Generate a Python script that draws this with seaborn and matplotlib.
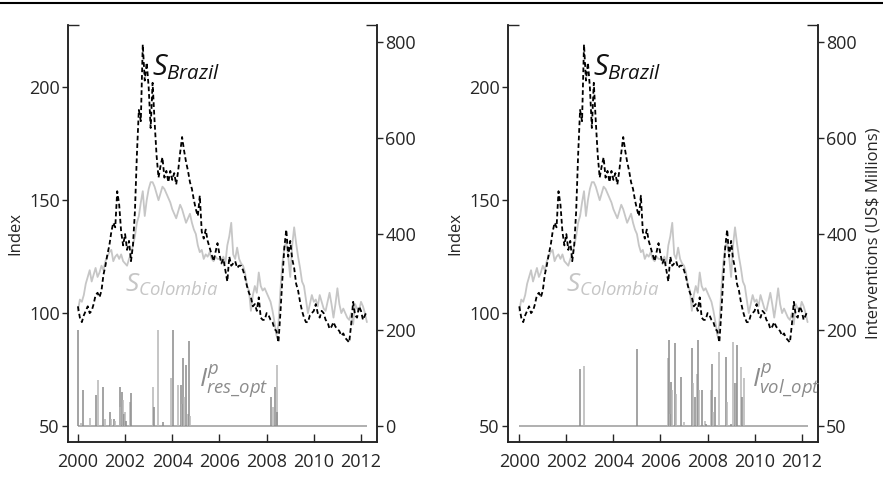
import numpy as np
import matplotlib
matplotlib.use('Agg')
import matplotlib.pyplot as plt
import seaborn as sns
from matplotlib.lines import Line2D

# monthly exchange-rate indices, Jan 2000 .. Apr 2012
brazil = [103, 98, 96, 99, 101, 103, 100, 101, 104, 108, 109, 107,
          110, 117, 121, 126, 130, 136, 140, 138, 154, 148, 136, 130,
          135, 128, 132, 123, 130, 145, 170, 190, 185, 219, 203, 211,
          200, 182, 202, 185, 170, 160, 165, 169, 160, 163, 158, 163,
          159, 162, 157, 163, 171, 178, 172, 167, 163, 158, 155, 150,
          146, 143, 152, 136, 133, 137, 132, 129, 126, 123, 127, 131,
          126, 122, 124, 119, 114, 125, 121, 122, 123, 120, 121, 121,
          119, 116, 112, 109, 107, 103, 104, 101, 107, 98, 97, 97,
          100, 99, 97, 96, 93, 92, 87, 100, 115, 129, 137, 125,
          132, 124, 120, 113, 110, 105, 101, 98, 96, 96, 99, 100,
          101, 104, 100, 98, 101, 100, 97, 96, 93, 94, 96, 94,
          93, 92, 90, 91, 89, 88, 87, 95, 105, 99, 98, 103,
          101, 97, 99, 101]
colombia = [101, 106, 105, 108, 113, 116, 119, 114, 117, 120, 116, 118,
            121, 119, 123, 125, 127, 128, 123, 125, 126, 124, 126, 123,
            122, 121, 124, 126, 130, 134, 140, 143, 149, 154, 143, 150,
            155, 158, 158, 156, 153, 150, 153, 156, 155, 153, 151, 149,
            146, 144, 142, 145, 148, 146, 143, 140, 142, 144, 140, 137,
            135, 130, 127, 128, 124, 126, 125, 127, 124, 123, 125, 124,
            124, 123, 125, 122, 130, 134, 140, 126, 124, 129, 124, 122,
            121, 118, 112, 110, 101, 108, 112, 109, 118, 112, 110, 111,
            109, 107, 105, 101, 96, 90, 95, 110, 122, 129, 132, 125,
            116, 130, 138, 131, 125, 120, 114, 112, 106, 100, 104, 108,
            105, 106, 103, 108, 105, 102, 101, 105, 109, 104, 98, 104,
            111, 104, 100, 102, 100, 98, 97, 100, 95, 104, 102, 101,
            105, 103, 100, 96]

# interventions (US$ millions)
res_dates = [2000.01, 2000.15, 2000.2, 2000.5, 2000.76, 2000.86, 2001.07, 2001.14,
             2001.36, 2001.4, 2001.55, 2001.58, 2001.78, 2001.8, 2001.85, 2001.9,
             2001.95, 2002.0, 2002.05, 2002.2, 2002.23, 2003.19, 2003.21, 2003.38,
             2003.6, 2003.94, 2004.04, 2004.25, 2004.39, 2004.42, 2004.46, 2004.5,
             2004.6, 2004.65, 2004.72, 2004.75, 2008.2, 2008.25, 2008.35, 2008.42,
             2008.45]
res_vals = [200, 6, 75, 16, 65, 96, 82, 15, 30, 15, 15, 10, 82, 40, 71, 55,
            25, 30, 10, 50, 68, 82, 40, 200, 8, 100, 200, 85, 85, 45, 141, 60,
            127, 25, 178, 20, 61, 40, 82, 127, 30]
vol_dates = [2002.59, 2002.76, 2004.99, 2006.3, 2006.36, 2006.4, 2006.45, 2006.5,
             2006.6, 2006.65, 2006.86, 2007.0, 2007.33, 2007.4, 2007.45, 2007.54,
             2007.6, 2007.65, 2007.75, 2007.9, 2007.95, 2008.13, 2008.17, 2008.24,
             2008.32, 2008.47, 2008.78, 2008.82, 2009.0, 2009.09, 2009.15, 2009.2,
             2009.26, 2009.42, 2009.46, 2009.56]
vol_vals = [118, 126, 160, 141, 179, 25, 92, 75, 172, 66, 103, 9, 162, 89, 60,
            108, 180, 75, 75, 10, 5, 75, 130, 30, 60, 155, 144, 50, 5, 176, 90,
            90, 169, 122, 60, 101]

year_ticks = [2000, 2002, 2004, 2006, 2008, 2010, 2012]
index_ticks = [50, 100, 150, 200]
interv_ticks = [0, 200, 400, 600, 800]

years = 2000 + np.arange(len(brazil)) / 12.0

sns.set_style('ticks')
plt.rcParams['font.family'] = ['Open Sans', 'DejaVu Sans']
plt.rcParams['mathtext.fontset'] = 'custom'
plt.rcParams['mathtext.rm'] = 'Open Sans'
plt.rcParams['mathtext.it'] = 'Open Sans:italic'

fig = plt.figure(figsize=(8.83, 4.86), dpi=100)
fig.add_artist(Line2D([0, 1], [0.993, 0.993], transform=fig.transFigure,
                      color='black', lw=1.5))

panels = [
    dict(rect=[0.077, 0.0905, 0.350, 0.858], xlim=(1999.58, 2012.68),
         dates=res_dates, vals=res_vals, lab=r'$I^{p}_{res\_opt}$', lab_x=2005.13,
         right_labels=['0', '200', '400', '600', '800'], ylabel2=None),
    dict(rect=[0.5753, 0.0905, 0.351, 0.858], xlim=(1999.52, 2012.69),
         dates=vol_dates, vals=vol_vals, lab=r'$I^{p}_{vol\_opt}$', lab_x=2009.88,
         right_labels=['50', '200', '400', '600', '800'],
         ylabel2='Interventions (US$ Millions)'),
]

for p in panels:
    ax = fig.add_axes(p['rect'])
    ax2 = ax.twinx()

    # interventions on the right axis
    ax2.hlines(0, years[0], years[-1], color='#9a9a9a', lw=1.1)
    cols = ['#8a8a8a' if i % 2 == 0 else '#b5b5b5' for i in range(len(p['vals']))]
    ax2.vlines(p['dates'], 0, p['vals'], colors=cols, lw=1.1)
    ax2.set_ylim(-33.3, 835.4)
    ax2.set_yticks(interv_ticks)
    ax2.set_yticklabels(p['right_labels'])
    ax2.set_yticks([835.4], minor=True)
    ax2.tick_params(axis='y', which='major', direction='out', length=4,
                    width=1, labelsize=13, pad=2)
    ax2.tick_params(axis='y', which='minor', direction='in', length=8, width=1)
    if p['ylabel2']:
        ax2.set_ylabel(p['ylabel2'], fontsize=12, labelpad=6)

    # index series on the left axis, drawn above the bars
    ax.set_zorder(ax2.get_zorder() + 1)
    ax.patch.set_visible(False)
    sns.lineplot(x=years, y=colombia, ax=ax, color='#c6c6c6', lw=1.3)
    sns.lineplot(x=years, y=brazil, ax=ax, color='black', lw=1.3,
                 linestyle=(0, (2.6, 1.6)))
    ax.set_xlim(*p['xlim'])
    ax.set_ylim(42.9, 227.6)
    ax.set_yticks(index_ticks)
    ax.set_yticks([227.6], minor=True)
    ax.set_xticks(year_ticks)
    ax.tick_params(axis='y', which='major', direction='out', length=4,
                   width=1, labelsize=13, pad=2)
    ax.tick_params(axis='y', which='minor', direction='in', length=8, width=1)
    ax.tick_params(axis='x', direction='in', length=6, width=1,
                   labelsize=13, pad=8)
    ax.set_ylabel('Index', fontsize=12, labelpad=4)
    ax.set_xlabel('')

    for a in (ax, ax2):
        a.spines['top'].set_visible(False)
        for s in ('left', 'right', 'bottom'):
            a.spines[s].set_color('#222222')
            a.spines[s].set_linewidth(1.1)

    ax.text(2003.14, 205.4, r'$S_{Brazil}$', fontsize=21, color='#111111',
            ha='left', va='baseline')
    ax.text(2001.99, 109.3, r'$S_{Colombia}$', fontsize=19, color='#c6c6c6',
            ha='left', va='baseline')
    ax.text(p['lab_x'], 67.3, p['lab'], fontsize=19, color='#8c8c8c',
            ha='left', va='baseline')

fig.savefig('out.png', dpi=100)
